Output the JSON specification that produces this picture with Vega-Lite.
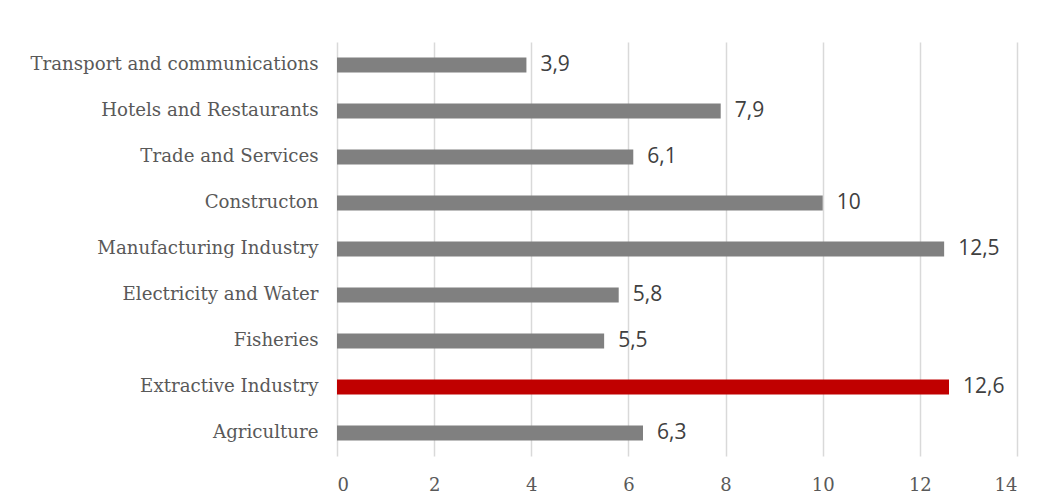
{
  "$schema": "https://vega.github.io/schema/vega-lite/v6.json",
  "autosize": {"type": "none"},
  "padding": {"left": 337, "top": 42, "right": 28, "bottom": 47},
  "width": 680,
  "height": 414,
  "background": "white",
  "config": {
    "view": {"stroke": null},
    "locale": {"number": {"decimal": ",", "thousands": ".", "grouping": [3], "currency": ["", " €"]}}
  },
  "data": {
    "values": [
      {"sector": "Transport and communications\u00a0", "value": 3.9, "highlight": "no"},
      {"sector": "Hotels and Restaurants", "value": 7.9, "highlight": "no"},
      {"sector": "Trade and Services", "value": 6.1, "highlight": "no"},
      {"sector": "Constructon", "value": 10, "highlight": "no"},
      {"sector": "Manufacturing Industry", "value": 12.5, "highlight": "no"},
      {"sector": "Electricity and Water", "value": 5.8, "highlight": "no"},
      {"sector": "Fisheries", "value": 5.5, "highlight": "no"},
      {"sector": "Extractive Industry", "value": 12.6, "highlight": "yes"},
      {"sector": "Agriculture", "value": 6.3, "highlight": "no"}
    ]
  },
  "encoding": {
    "y": {
      "field": "sector",
      "type": "nominal",
      "sort": null,
      "title": null,
      "scale": {"paddingInner": 0.674, "paddingOuter": 0.337},
      "axis": {
        "domain": false,
        "ticks": false,
        "labelFont": "DejaVu Serif",
        "labelFontSize": 18.2,
        "labelColor": "#595959",
        "labelPadding": 19,
        "labelLimit": 400
      }
    },
    "x": {
      "field": "value",
      "type": "quantitative",
      "title": null,
      "scale": {"domain": [0, 14], "nice": false},
      "axis": {
        "values": [0, 2, 4, 6, 8, 10, 12, 14],
        "domain": false,
        "ticks": false,
        "grid": true,
        "gridColor": "#d9d9d9",
        "gridWidth": 1.5,
        "labelFont": "DejaVu Serif",
        "labelFontSize": 18,
        "labelColor": "#595959",
        "labelPadding": 20
      }
    }
  },
  "layer": [
    {
      "mark": {"type": "bar"},
      "encoding": {
        "color": {
          "field": "highlight",
          "type": "nominal",
          "scale": {"domain": ["no", "yes"], "range": ["#808080", "#c00000"]},
          "legend": null
        }
      }
    },
    {
      "mark": {"type": "text", "align": "left", "baseline": "middle", "dx": 14, "font": "Open Sans", "fontSize": 21, "color": "#404040"},
      "encoding": {
        "text": {"field": "value", "type": "quantitative", "format": ".1~f"}
      }
    }
  ]
}
